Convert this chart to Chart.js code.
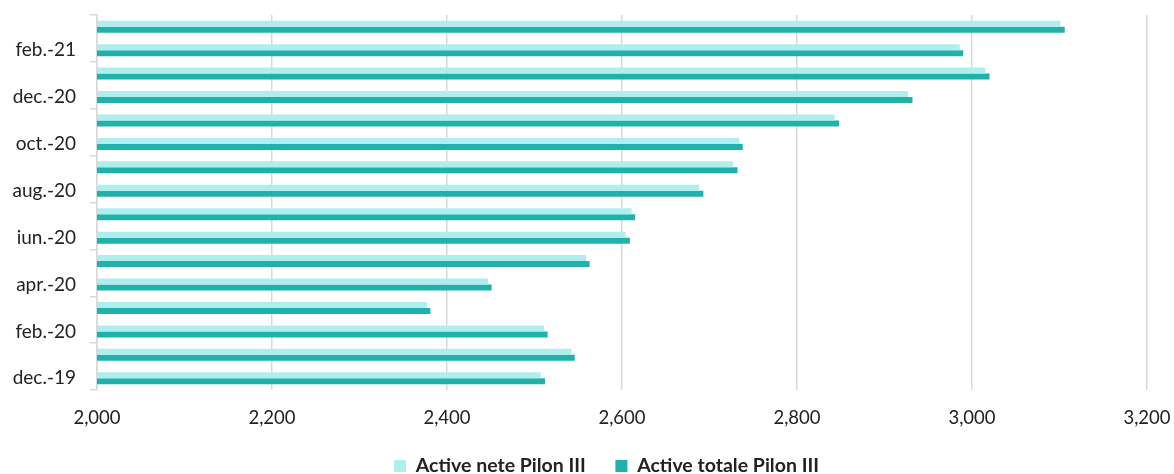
<!DOCTYPE html>
<html>
<head>
<meta charset="utf-8">
<script src="https://cdn.jsdelivr.net/npm/chart.js@4"></script>
<style>
  html, body { margin: 0; padding: 0; background: #fff; }
  #wrap { width: 1174px; height: 474px; }
</style>
</head>
<body>
<div id="wrap"><canvas id="assetsChart"></canvas></div>
<script>
// Monthly assets, Pilon III (chronological, dec.-19 .. mar.-21)
const months = ['dec.-19', 'ian.-20', 'feb.-20', 'mar.-20', 'apr.-20', 'mai.-20', 'iun.-20', 'iul.-20',
                'aug.-20', 'sep.-20', 'oct.-20', 'nov.-20', 'dec.-20', 'ian.-21', 'feb.-21', 'mar.-21'];
const activeNete = [2507, 2542, 2511, 2377, 2447, 2559, 2604, 2611,
                    2688, 2727, 2734, 2843, 2927, 3015, 2986, 3101];
const activeTotale = [2512, 2546, 2515, 2381, 2451, 2563, 2609, 2615,
                      2693, 2732, 2738, 2848, 2932, 3020, 2990, 3106];
const xTicks = [2000, 2200, 2400, 2600, 2800, 3000, 3200];

const fontFamily = 'Lato, "Open Sans", sans-serif';
const textColor = '#222';
const gridColor = '#d9d9d9';

// Push the legend a little to the right of the canvas centre
const legendShift = {
    id: 'legendShift',
    afterLayout(chart) {
        if (chart.legend) {
            chart.legend.left += 33;
            chart.legend.right += 33;
        }
    }
};

document.addEventListener('DOMContentLoaded', function() {
    const ctx = document.getElementById('assetsChart').getContext('2d');
    new Chart(ctx, {
        type: 'bar',
        data: {
            labels: months,
            datasets: [{
                label: 'Active nete Pilon III',
                data: activeNete,
                backgroundColor: '#AFEEEE',
                borderWidth: 0,
                categoryPercentage: 0.512,
                barPercentage: 1
            }, {
                label: 'Active totale Pilon III',
                data: activeTotale,
                backgroundColor: '#20B2AA',
                borderWidth: 0,
                categoryPercentage: 0.512,
                barPercentage: 1
            }]
        },
        plugins: [legendShift],
        options: {
            indexAxis: 'y',
            responsive: true,
            maintainAspectRatio: false,
            animation: false,
            layout: {
                padding: { left: 0, right: 27, top: 15, bottom: -11.75 }
            },
            plugins: {
                tooltip: { enabled: false },
                legend: {
                    position: 'bottom',
                    labels: {
                        boxWidth: 12,
                        boxHeight: 12,
                        padding: 29.5,
                        color: textColor,
                        font: { family: fontFamily, size: 19.5, weight: 'bold' }
                    }
                }
            },
            scales: {
                x: {
                    min: 2000,
                    max: 3200,
                    afterBuildTicks: function(axis) {
                        axis.ticks = xTicks.map(v => ({ value: v }));
                    },
                    afterFit: function(axis) {
                        axis.height = 36.75;
                        axis.paddingLeft = 0;
                        axis.paddingRight = 0;
                    },
                    border: { display: false },
                    grid: {
                        color: gridColor,
                        lineWidth: 1.5,
                        drawTicks: false
                    },
                    ticks: {
                        padding: 17,
                        color: textColor,
                        font: { family: fontFamily, size: 18.5 },
                        callback: v => v.toLocaleString('en-US')
                    }
                },
                y: {
                    reverse: true,
                    afterFit: function(axis) {
                        axis.width = 97;
                        axis.paddingTop = 0;
                        axis.paddingBottom = 0;
                    },
                    border: { display: true, color: gridColor, width: 1.5 },
                    grid: {
                        drawOnChartArea: false,
                        tickLength: 7,
                        lineWidth: 1.5,
                        color: c => (c.index === undefined || c.index % 2 === 0) ? gridColor : 'rgba(0,0,0,0)'
                    },
                    ticks: {
                        autoSkip: false,
                        padding: 14,
                        color: textColor,
                        font: { family: fontFamily, size: 19 },
                        callback: function(value, index) {
                            return index % 2 === 0 ? this.getLabelForValue(value) : '';
                        }
                    }
                }
            }
        }
    });
});
</script>
</body>
</html>
